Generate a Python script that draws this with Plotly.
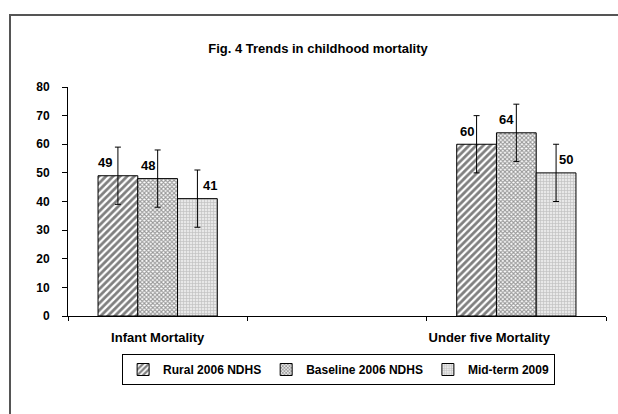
import plotly.graph_objects as go

categories = ["Infant Mortality", "Under five Mortality"]
axis_categories = ["Infant Mortality", " ", "Under five Mortality"]
series_names = ["Rural 2006 NDHS", "Baseline 2006 NDHS", "Mid-term 2009"]
rural = [49, 60]
baseline = [48, 64]
midterm = [41, 50]
errors = [10, 10]
label_dx = [[-13, -10], [-10, -10], [13, 10]]
y_ticks = [0, 10, 20, 30, 40, 50, 60, 70, 80]

FONT = "Liberation Sans, Arial, sans-serif"
patterns = [
    dict(shape="/", size=5, solidity=0.55, fgcolor="black", bgcolor="white", fillmode="overlay"),
    dict(shape="x", size=3, solidity=0.6, fgcolor="#333", bgcolor="white", fillmode="overlay"),
    dict(shape="+", size=3, solidity=0.4, fgcolor="#999", bgcolor="#e8e8e8", fillmode="overlay"),
]

fig = go.Figure()
all_vals = [rural, baseline, midterm]
for name, vals, pat in zip(series_names, all_vals, patterns):
    fig.add_trace(go.Bar(
        name="<b>%s</b>" % name, x=categories, y=vals,
        marker=dict(color="white", pattern=pat, line=dict(color="black", width=1)),
        error_y=dict(type="data", array=errors, color="black", thickness=1, width=3),
    ))

L, R, T, B = 68, 12, 87, 98
W, H = 618, 414
pw = W - L - R
ph = H - T - B
cat_px = pw / 3
bar_px = cat_px * (1 - 0.335) / 3

annotations = []
for si, vals in enumerate(all_vals):
    for ci, v in enumerate(vals):
        annotations.append(dict(
            x=categories[ci], y=v, xref="x", yref="y", text="<b>%d</b>" % v, showarrow=False,
            xshift=(si - 1) * bar_px + label_dx[si][ci], yshift=13,
            font=dict(family=FONT, size=13, color="black"),
        ))

NB = "\u00a0"
fig.update_layout(
    width=W, height=H, autosize=False,
    margin=dict(l=L, r=R, t=T, b=B, pad=0, autoexpand=False),
    paper_bgcolor="white", plot_bgcolor="white",
    barmode="group", bargap=0.335, bargroupgap=0,
    showlegend=True,
    title=dict(text="<b>Fig. 4 Trends in childhood mortality</b>", x=318 / W, xanchor="center",
               y=1 - 48 / H, yanchor="middle", font=dict(family=FONT, size=13, color="black")),
    legend=dict(orientation="h", x=0.503, xanchor="center", y=-(354 - (H - B)) / ph, yanchor="top",
                bordercolor="black", borderwidth=1, font=dict(family=FONT, size=12, color="black"),
                itemwidth=30, tracegroupgap=0, bgcolor="white"),
    font=dict(family=FONT, size=12, color="black"),
    annotations=annotations,
    shapes=[dict(type="rect", xref="paper", yref="paper",
                 x0=(10 - L) / pw, x1=1.2, y0=-1, y1=1 + (T - 15) / ph,
                 line=dict(color="#555", width=2), fillcolor="rgba(0,0,0,0)", layer="below")],
)
fig.update_xaxes(type="category", categoryorder="array", categoryarray=axis_categories,
                 range=[-0.5, 2.5], showline=True, linecolor="black", linewidth=1,
                 ticks="outside", tickson="boundaries", ticklen=4, tickcolor="black",
                 tickvals=axis_categories, tickangle=0, automargin=False,
                 ticktext=["<b>Infant Mortality</b>", "",
                           "<b>Under five Mortality</b>" + NB * 15],
                 ticklabelstandoff=9,
                 tickfont=dict(family=FONT, size=13, color="black"), showgrid=False, zeroline=False)
fig.update_yaxes(range=[0, 80], tickvals=y_ticks, ticktext=["<b>%d</b>" % t for t in y_ticks],
                 showline=True, linecolor="black", linewidth=1, automargin=False,
                 ticks="outside", ticklen=5, tickcolor="black", showgrid=False, zeroline=False,
                 ticklabelstandoff=10,
                 tickfont=dict(family=FONT, size=12, color="black"))

fig.write_html("out.html", config={"displayModeBar": False},
               post_script="document.body.style.margin='0';document.body.style.overflow='hidden';")
